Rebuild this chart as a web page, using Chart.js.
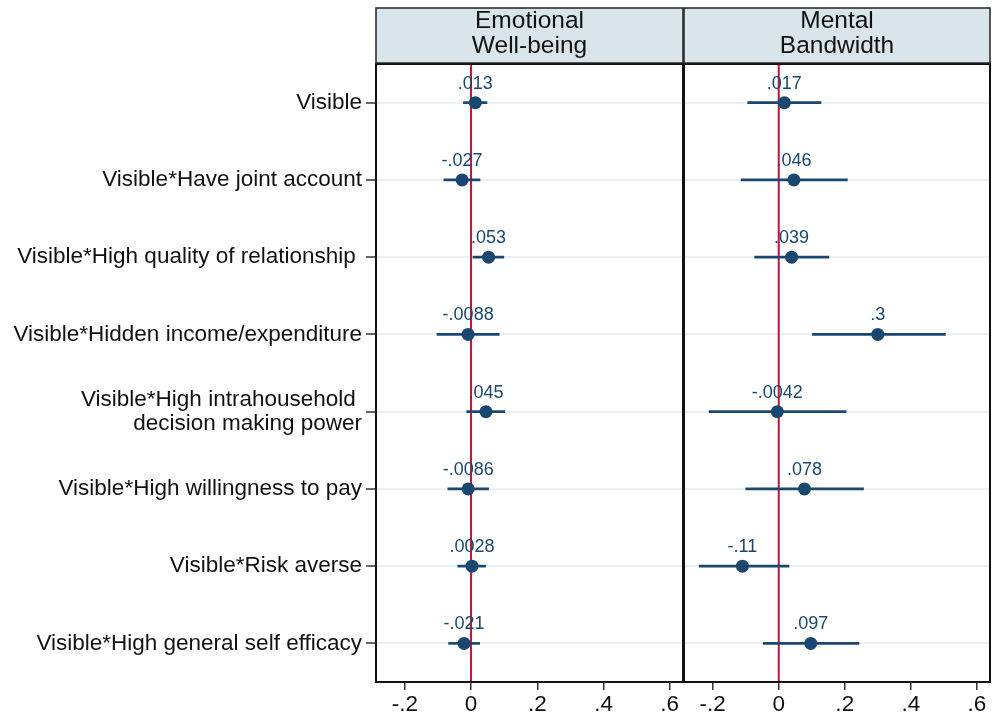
<!DOCTYPE html>
<html>
<head>
<meta charset="utf-8">
<script src="https://cdn.jsdelivr.net/npm/chart.js@4/dist/chart.umd.min.js"></script>
<style>
  body { margin: 0; background: #fff; }
  #wrap { position: relative; width: 992px; height: 719px; }
  canvas { position: absolute; left: 0; top: 0; }
</style>
</head>
<body>
<div id="wrap">
  <canvas id="ewbChart" width="992" height="719"></canvas>
  <canvas id="mbChart" width="992" height="719"></canvas>
</div>
<script>
const categories = [
  "Visible",
  "Visible*Have joint account",
  "Visible*High quality of relationship ",
  "Visible*Hidden income/expenditure",
  ["Visible*High intrahousehold ", "decision making power"],
  "Visible*High willingness to pay",
  "Visible*Risk averse",
  "Visible*High general self efficacy"
];

// Emotional well-being: coefficient and CI bounds
const ewbCoef = [0.013, -0.027, 0.053, -0.0088, 0.045, -0.0086, 0.0028, -0.021];
const ewbLow = [-0.023, -0.082, 0.006, -0.103, -0.013, -0.070, -0.040, -0.068];
const ewbHigh = [0.048, 0.027, 0.099, 0.085, 0.102, 0.053, 0.044, 0.026];

// Mental bandwidth
const mbCoef = [0.017, 0.046, 0.039, 0.3, -0.0042, 0.078, -0.11, 0.097];
const mbLow = [-0.094, -0.114, -0.073, 0.102, -0.211, -0.100, -0.241, -0.047];
const mbHigh = [0.128, 0.208, 0.152, 0.505, 0.204, 0.257, 0.031, 0.243];

const xTicks = [-0.2, 0, 0.2, 0.4, 0.6];
const panelTitles = [["Emotional", "Well-being"], ["Mental", "Bandwidth"]];

const navy = "#1a476f";
const FONT = "'Liberation Sans', Arial, sans-serif";
Chart.defaults.font.family = FONT;

// Stata style number: .013, -.0088, 0
function fmt(v) {
  if (v === 0) return "0";
  return String(+v.toFixed(4)).replace("0.", ".");
}

function makePanel(id, title, coef, low, high, showLabels, leftWidth, padRight) {
  const panelPlugin = {
    id: "panel_" + id,
    beforeDatasetsDraw(chart) {
      const ctx = chart.ctx;
      const a = chart.chartArea;
      const x0 = chart.scales.x.getPixelForValue(0);
      ctx.save();
      ctx.strokeStyle = "#c8103c";
      ctx.lineWidth = 2;
      ctx.beginPath();
      ctx.moveTo(x0, a.top);
      ctx.lineTo(x0, a.bottom);
      ctx.stroke();
      ctx.restore();
    },
    afterDatasetsDraw(chart) {
      const ctx = chart.ctx;
      const meta = chart.getDatasetMeta(1);
      ctx.save();
      ctx.fillStyle = navy;
      ctx.font = "18px " + FONT;
      ctx.textAlign = "center";
      ctx.textBaseline = "middle";
      meta.data.forEach((pt, i) => {
        ctx.fillText(fmt(coef[i]), pt.x, pt.y - 19);
      });
      ctx.restore();
    },
    afterDraw(chart) {
      const ctx = chart.ctx;
      const a = chart.chartArea;
      ctx.save();
      // frame
      ctx.strokeStyle = "#111";
      ctx.lineWidth = 2;
      ctx.strokeRect(a.left, a.top, a.right - a.left, a.bottom - a.top);
      // header box
      ctx.fillStyle = "#d9e5eb";
      ctx.fillRect(a.left, 8, a.right - a.left, a.top - 9);
      ctx.strokeStyle = "#222";
      ctx.lineWidth = 1.5;
      ctx.strokeRect(a.left, 8, a.right - a.left, a.top - 9);
      ctx.fillStyle = "#111";
      ctx.font = "24.5px " + FONT;
      ctx.textAlign = "center";
      ctx.textBaseline = "middle";
      const cx = (a.left + a.right) / 2;
      ctx.fillText(title[0], cx, 21);
      ctx.fillText(title[1], cx, 46);
      ctx.restore();
    }
  };

  return new Chart(document.getElementById(id), {
    type: "scatter",
    data: {
      datasets: [
        {
          type: "bar",
          indexAxis: "y",
          data: low.map((lo, i) => ({ x: [lo, high[i]], y: i + 1 })),
          backgroundColor: navy,
          barThickness: 2,
          order: 2
        },
        {
          type: "scatter",
          data: coef.map((c, i) => ({ x: c, y: i + 1 })),
          pointRadius: 6.5,
          pointBackgroundColor: navy,
          pointBorderWidth: 0,
          order: 1
        }
      ]
    },
    options: {
      responsive: false,
      animation: false,
      layout: { autoPadding: false, padding: { top: 64, right: padRight, left: 0, bottom: 0 } },
      plugins: { legend: { display: false }, tooltip: { enabled: false } },
      scales: {
        x: {
          type: "linear",
          min: -0.287,
          max: 0.64,
          offset: false,
          afterBuildTicks: s => { s.ticks = xTicks.map(v => ({ value: v })); },
          afterFit: s => { s.height = 37; s.paddingLeft = 0; s.paddingRight = 0; },
          border: { display: false },
          grid: { offset: false, drawOnChartArea: false, drawTicks: true, tickLength: 8, color: "#333", lineWidth: 1.5 },
          ticks: { padding: 1, color: "#111", font: { size: 22.5 }, callback: v => fmt(v) }
        },
        y: {
          type: "linear",
          reverse: true,
          min: 0.5,
          max: 8.5,
          offset: false,
          afterBuildTicks: s => { s.ticks = categories.map((c, i) => ({ value: i + 1 })); },
          afterFit: s => { s.width = leftWidth; },
          border: { display: false },
          grid: {
            offset: false,
            color: "#eaf0f2",
            lineWidth: 2,
            drawTicks: showLabels,
            tickLength: 10,
            tickColor: "#333",
            tickWidth: 1.5
          },
          ticks: {
            display: showLabels,
            padding: 4,
            color: "#111",
            font: { size: 22.5, lineHeight: 1.07 },
            callback: v => categories[v - 1]
          }
        }
      }
    },
    plugins: [panelPlugin]
  });
}

makePanel("ewbChart", panelTitles[0], ewbCoef, ewbLow, ewbHigh, true, 376, 992 - 683);
makePanel("mbChart", panelTitles[1], mbCoef, mbLow, mbHigh, false, 684, 2);
</script>
</body>
</html>
